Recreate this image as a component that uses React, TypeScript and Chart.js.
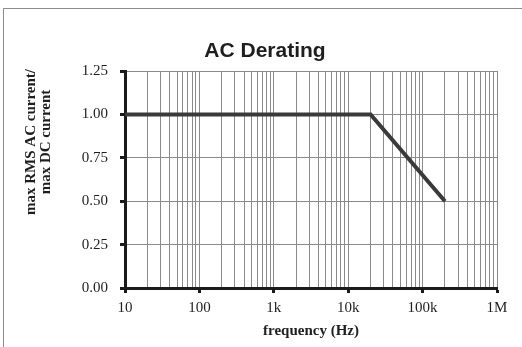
import React, { useEffect, useRef } from "react";
import { Chart, registerables } from "chart.js";

Chart.register(...registerables);

// ---- data ----
const frequencyHz = [10, 20000, 200000];
const derating = [1.0, 1.0, 0.5];

const xMajorTicks = [10, 100, 1000, 10000, 100000, 1000000];
const xMajorLabels = ["10", "100", "1k", "10k", "100k", "1M"];
const yTicks = [0, 0.25, 0.5, 0.75, 1.0, 1.25];

const chartTitle = "AC Derating";
const yTitleLines = ["max RMS AC current/", "max DC current"];
const xTitle = "frequency (Hz)";

const SERIF = '"Liberation Serif", "Times New Roman", serif';
const SANS = '"Liberation Sans", Arial, sans-serif';

const textPlugin = {
  id: "textPlugin",
  afterDraw(chart: any) {
    const ctx = chart.ctx;
    const area = chart.chartArea;
    ctx.save();
    // outer frame
    ctx.strokeStyle = "#8c8c8c";
    ctx.lineWidth = 1;
    ctx.strokeRect(3.5, 8.5, 700, 500);
    // chart title
    ctx.fillStyle = "#1e1e1e";
    ctx.font = "bold 21px " + SANS;
    ctx.textAlign = "center";
    ctx.textBaseline = "alphabetic";
    ctx.fillText(chartTitle, 265, 57);
    // y title
    ctx.font = "bold 15px " + SERIF;
    ctx.textBaseline = "middle";
    const xs = [31, 46];
    yTitleLines.forEach((line, i) => {
      ctx.save();
      ctx.translate(xs[i], 142);
      ctx.rotate(-Math.PI / 2);
      ctx.fillText(line, 0, 0);
      ctx.restore();
    });
    // x title
    ctx.fillText(xTitle, (area.left + area.right) / 2, 331);
    ctx.restore();
  },
};

export default function App() {
  const ref = useRef<HTMLCanvasElement | null>(null);
  useEffect(() => {
    if (!ref.current) return;
    const chart = new Chart(ref.current, {
      type: "line",
      data: {
        datasets: [
          {
            data: frequencyHz.map((f, i) => ({ x: f, y: derating[i] })),
            borderColor: "#3a3a3a",
            borderWidth: 4,
            pointRadius: 0,
            tension: 0,
            fill: false,
          },
        ],
      },
      options: {
        responsive: false,
        animation: false,
        layout: { padding: { top: 71, right: 25, bottom: 0, left: 0 } },
        plugins: {
          legend: { display: false },
          title: { display: false },
          tooltip: { enabled: false },
        },
        scales: {
          x: {
            type: "logarithmic",
            min: 10,
            max: 1000000,
            afterFit(scale: any) {
              scale.height = 59;
            },
            afterBuildTicks(scale: any) {
              const ticks: any[] = [];
              for (let d = 0; d < xMajorTicks.length; d++) {
                const base = xMajorTicks[d];
                ticks.push({ value: base, major: true });
                if (d < xMajorTicks.length - 1) {
                  for (let m = 2; m <= 9; m++) ticks.push({ value: base * m });
                }
              }
              scale.ticks = ticks;
            },
            ticks: {
              autoSkip: false,
              maxRotation: 0,
              padding: 6,
              color: "#1e1e1e",
              font: { family: SERIF, size: 15 },
              callback: (v: any) => {
                const idx = xMajorTicks.indexOf(Number(v));
                return idx >= 0 ? xMajorLabels[idx] : "";
              },
            },
            grid: {
              color: "#8a8a8a",
              lineWidth: 1,
              drawTicks: true,
              tickLength: 5,
              tickWidth: 3,
              tickColor: (ctx: any) =>
                ctx.tick && xMajorTicks.indexOf(ctx.tick.value) >= 0
                  ? "#1a1a1a"
                  : "rgba(0,0,0,0)",
            },
            border: { display: true, color: "#1a1a1a", width: 3 },
          },
          y: {
            type: "linear",
            min: 0,
            max: 1.25,
            afterFit(scale: any) {
              scale.width = 125;
            },
            afterBuildTicks(scale: any) {
              scale.ticks = yTicks.map((v) => ({ value: v }));
            },
            ticks: {
              padding: 12,
              color: "#1e1e1e",
              font: { family: SERIF, size: 15 },
              callback: (v: any) => Number(v).toFixed(2),
            },
            grid: {
              color: "#8a8a8a",
              lineWidth: 1,
              drawTicks: true,
              tickLength: 5,
              tickWidth: 3,
              tickColor: "#1a1a1a",
            },
            border: { display: true, color: "#1a1a1a", width: 3 },
          },
        },
      },
      plugins: [textPlugin],
    });
    return () => chart.destroy();
  }, []);
  return (
    <div style={{ position: "absolute", left: 0, top: 0, width: 522, height: 347 }}>
      <canvas ref={ref} width={522} height={347} />
    </div>
  );
}
